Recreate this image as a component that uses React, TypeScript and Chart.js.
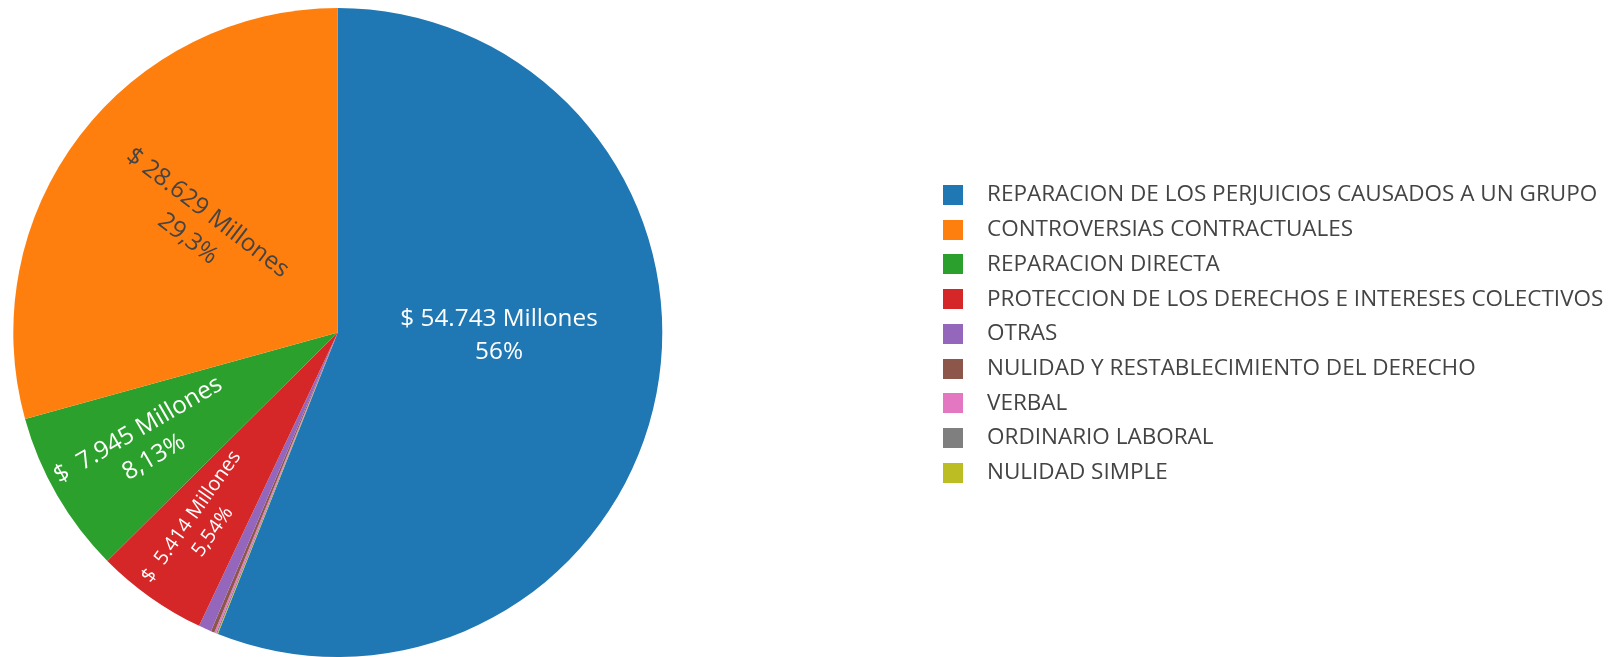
import React, { useEffect, useRef } from 'react';
import { Chart, registerables } from 'chart.js';

Chart.register(...registerables);

// ---- data (legend order) ----
const categories = [
  'REPARACION DE LOS PERJUICIOS CAUSADOS A UN GRUPO',
  'CONTROVERSIAS CONTRACTUALES',
  'REPARACION DIRECTA',
  'PROTECCION DE LOS DERECHOS E INTERESES COLECTIVOS',
  'OTRAS',
  'NULIDAD Y RESTABLECIMIENTO DEL DERECHO',
  'VERBAL',
  'ORDINARIO LABORAL',
  'NULIDAD SIMPLE',
];
const valuesMillones = [54743, 28629, 7945, 5414, 620, 180, 90, 55, 35];
const colors = ['#1f77b4', '#ff7f0e', '#2ca02c', '#d62728', '#9467bd', '#8c564b', '#e377c2', '#7f7f7f', '#bcbd22'];
// slices are laid out counter-clockwise in legend order, ending at 12 o'clock with the first one
const drawOrder = [0, 8, 7, 6, 5, 4, 3, 2, 1];

// ---- label styling (per category, legend order) ----
type LabelStyle = { size: number; color: string; rFrac: number; angle: number | null; lineGap: number } | null;
const labelStyles: LabelStyle[] = [
  { size: 24.3, color: '#ffffff', rFrac: 0.497, angle: 0.018, lineGap: 32.5 },
  { size: 24.3, color: '#444444', rFrac: 0.543, angle: null, lineGap: 32.5 },
  { size: 24.3, color: '#ffffff', rFrac: 0.683, angle: null, lineGap: 31.5 },
  { size: 20, color: '#ffffff', rFrac: 0.724, angle: null, lineGap: 26 },
  null, null, null, null, null,
];

const FONT = '"Open Sans", sans-serif';
const total = valuesMillones.reduce((a, b) => a + b, 0);

function fmtValue(v: number): string {
  const s = Math.round(v).toString().replace(/\B(?=(\d{3})+(?!\d))/g, '.');
  return '$ ' + s.padStart(6, ' ') + ' Millones';
}
function fmtPct(v: number): string {
  const p = (v / total) * 100;
  let s = p.toPrecision(3);
  if (s.indexOf('.') >= 0) s = s.replace(/0+$/, '').replace(/\.$/, '');
  return s.replace('.', ',') + '%';
}

const LEGEND_FONT = 22.5;
const LEGEND_ROW = 34.7;
const LEGEND_PAD = LEGEND_ROW - LEGEND_FONT;
const SWATCH = 20;
const SWATCH_LEFT = 943;
const TEXT_LEFT = 987;
// slot width so that swatch left and text left land where wanted
const SWATCH_SLOT = 2 * (TEXT_LEFT - SWATCH_LEFT - SWATCH / 2 - LEGEND_FONT / 2);
const ITEM_X = SWATCH_LEFT + SWATCH / 2 - SWATCH_SLOT / 2;

const fixedLayoutPlugin = {
  id: 'fixedLayout',
  afterLayout(chart: any) {
    const a = chart.chartArea;
    a.left = 13.3;
    a.right = 662.3;
    a.top = 8;
    a.bottom = 657;
    a.width = a.right - a.left;
    a.height = a.bottom - a.top;
    const lg = chart.legend;
    if (lg) {
      lg.left = ITEM_X - LEGEND_PAD;
      lg.right = 1622;
      // first row centred at y = 195
      const colH = 9 * LEGEND_ROW;
      const y0 = 195 - LEGEND_FONT / 2;
      lg.bottom = 657;
      lg.top = 2 * y0 - LEGEND_PAD + colH - lg.bottom;
      lg.width = lg.right - lg.left;
      lg.height = lg.bottom - lg.top;
    }
  },
};

const sliceLabelPlugin = {
  id: 'sliceLabels',
  afterDatasetsDraw(chart: any) {
    const meta = chart.getDatasetMeta(0);
    const ctx = chart.ctx as CanvasRenderingContext2D;
    meta.data.forEach((arc: any, di: number) => {
      const ci = drawOrder[di];
      const st = labelStyles[ci];
      if (!st) return;
      const { x, y, startAngle, endAngle, outerRadius } = arc.getProps(
        ['x', 'y', 'startAngle', 'endAngle', 'outerRadius'],
        true
      );
      const horizontal = st.angle !== null;
      const mid = horizontal ? (st.angle as number) : (startAngle + endAngle) / 2;
      const r = outerRadius * st.rFrac;
      const cx = x + Math.cos(mid) * r;
      const cy = y + Math.sin(mid) * r;
      let rot = horizontal ? 0 : mid;
      if (Math.cos(rot) < 0) rot += Math.PI;
      ctx.save();
      ctx.translate(cx, cy);
      ctx.rotate(rot);
      ctx.font = `${st.size}px ${FONT}`;
      ctx.fillStyle = st.color;
      ctx.textAlign = 'center';
      ctx.textBaseline = 'middle';
      ctx.fillText(fmtValue(valuesMillones[ci]), 0, -st.lineGap / 2);
      ctx.fillText(fmtPct(valuesMillones[ci]), 0, st.lineGap / 2);
      ctx.restore();
    });
  },
};

export default function App() {
  const ref = useRef<HTMLCanvasElement | null>(null);
  useEffect(() => {
    if (!ref.current) return;
    const swatch = (color: string) => {
      const c = document.createElement('canvas');
      c.width = SWATCH;
      c.height = SWATCH;
      const g = c.getContext('2d')!;
      g.fillStyle = color;
      g.fillRect(0, 0, SWATCH, SWATCH);
      return c;
    };
    const chart = new Chart(ref.current, {
      type: 'pie',
      data: {
        labels: drawOrder.map((i) => categories[i]),
        datasets: [
          {
            data: drawOrder.map((i) => valuesMillones[i]),
            backgroundColor: drawOrder.map((i) => colors[i]),
            borderWidth: 0,
          },
        ],
      },
      options: {
        animation: false,
        responsive: false,
        maintainAspectRatio: false,
        rotation: 0,
        layout: { padding: 0 },
        plugins: {
          tooltip: { enabled: false },
          legend: {
            display: true,
            position: 'right',
            align: 'center',
            labels: {
              font: { family: FONT, size: LEGEND_FONT },
              color: '#444444',
              padding: LEGEND_PAD,
              usePointStyle: true,
              pointStyleWidth: SWATCH_SLOT,
              generateLabels: (ch: any) => {
                const base = (Chart as any).overrides.pie.plugins.legend.labels.generateLabels(ch);
                return base.map((it: any) => ({ ...it, pointStyle: swatch(it.fillStyle), lineWidth: 0 }));
              },
              sort: (a: any, b: any) => drawOrder[a.index] - drawOrder[b.index],
            },
          },
        },
      } as any,
      plugins: [fixedLayoutPlugin, sliceLabelPlugin],
    });
    return () => chart.destroy();
  }, []);
  return (
    <div style={{ position: 'fixed', left: 0, top: 0, width: 1624, height: 657, background: '#fff' }}>
      <canvas ref={ref} width={1624} height={657} style={{ display: 'block', width: 1624, height: 657 }} />
    </div>
  );
}
